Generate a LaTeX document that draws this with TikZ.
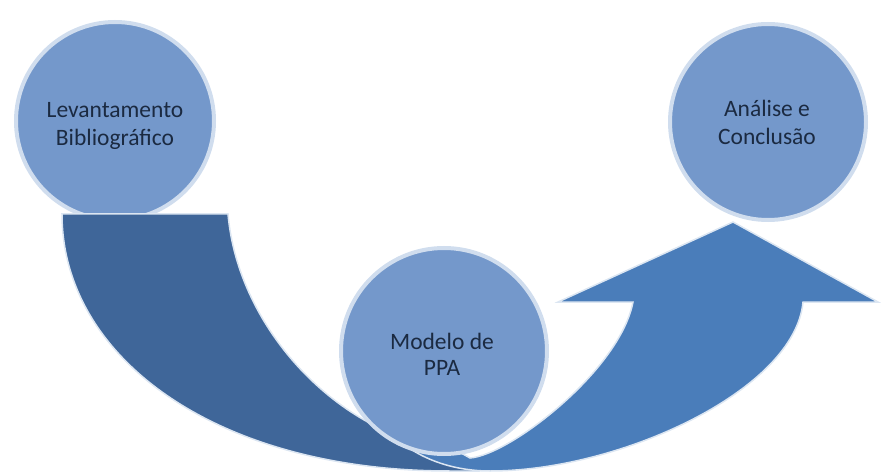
\documentclass[tikz,border=0pt]{standalone}
\usepackage{fontspec}
\setmainfont{Carlito}
\definecolor{darkband}{HTML}{3F6699}
\definecolor{lightband}{HTML}{4A7DBA}
\definecolor{circfill}{HTML}{7498CB}
\definecolor{circring}{HTML}{D0DDEE}
\definecolor{edgecol}{HTML}{DCE6F2}
\definecolor{txt}{HTML}{1B2A41}
\begin{document}
\begin{tikzpicture}[x=1pt,y=-1pt,
  stage/.style={circle, fill=circfill, draw=circring, line width=4pt, inner sep=0pt, text=txt, align=center,
    font=\fontsize{23.5}{28}\selectfont},
  band/.style={draw=edgecol, line width=1.5pt, line join=miter}]
\useasboundingbox (0,0) rectangle (881,473);
% first circle (behind the band)
\node[stage, minimum size=198pt] (c1) at (115,121) {};
% dark descending band
\draw[band, fill=darkband] (62,214) -- (228,214)
  .. controls (238,330) and (340,435) .. (445,448)
  -- (478,471) -- (450,471)
  .. controls (215,471) and (62,357) .. (62,214) -- cycle;
% light ascending arrow
\draw[band, fill=lightband] (395,437)
  .. controls (420,460) and (455,471) .. (490,471)
  .. controls (620,471) and (795,390) .. (803,302)
  -- (878,302) -- (733,222) -- (558,302) -- (633,302)
  .. controls (620,370) and (510,455) .. (470,458)
  -- (420,430) -- cycle;
% third and second circles
\node[stage, minimum size=196pt] (c3) at (768,122) {};
\node[stage, minimum size=206pt] (c2) at (444,351) {};
% texts
\node[text=txt, align=center, font=\fontsize{23.5}{28}\selectfont] (t1) at (115,126) {Levantamento\\Bibliográfico};
\node[text=txt, align=center, font=\fontsize{23.5}{28}\selectfont] (t3) at (767,122) {Análise e\\Conclusão};
\node[text=txt, align=center, font=\fontsize{23.5}{26}\selectfont] (t2) at (442,354) {Modelo de\\PPA};
\end{tikzpicture}
\end{document}
